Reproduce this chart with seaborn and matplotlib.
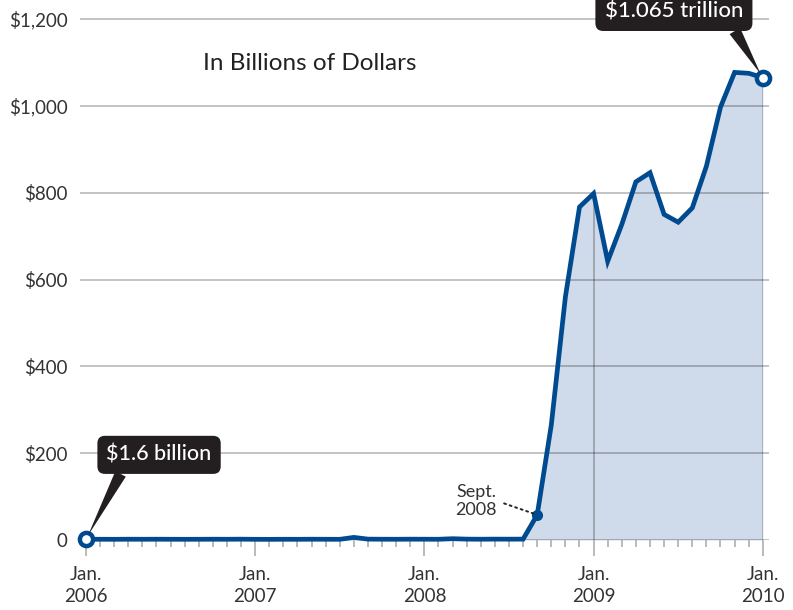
import numpy as np
import pandas as pd
import matplotlib
matplotlib.use("Agg")
import matplotlib.pyplot as plt
from matplotlib.ticker import FixedLocator, MultipleLocator
import seaborn as sns

# ---- data (billions of dollars, monthly Jan 2006 .. Jan 2010) ----
values_2006 = [1.6, 1.7, 1.6, 1.8, 1.7, 1.8, 1.7, 1.6, 1.7, 1.8, 1.7, 1.9]
values_2007 = [1.6, 1.5, 1.7, 1.6, 1.8, 1.7, 1.6, 6.0, 2.0, 1.8, 1.7, 1.9]
values_2008 = [1.8, 1.7, 3.0, 2.0, 1.8, 2.0, 1.9, 2.0, 58.0, 265.0, 560.0, 767.0]
values_2009 = [798.0, 642.0, 727.0, 825.0, 846.0, 750.0, 732.0, 765.0, 861.0, 997.0, 1077.0, 1075.0]
values_2010 = [1065.0]
values = values_2006 + values_2007 + values_2008 + values_2009 + values_2010
months = list(range(len(values)))

year_tick_months = [0, 12, 24, 36, 48]
year_tick_labels = ["Jan.\n2006", "Jan.\n2007", "Jan.\n2008", "Jan.\n2009", "Jan.\n2010"]
y_ticks = [0, 200, 400, 600, 800, 1000, 1200]
y_tick_labels = ["0", "$200", "$400", "$600", "$800", "$1,000", "$1,200"]

title_text = "In Billions of Dollars"
start_label = "$1.6 billion"
end_label = "$1.065 trillion"
sept_label = "Sept.\n2008"
sept_index = 32

df = pd.DataFrame({"month": months, "value": values})

# ---- style ----
sns.set_theme(style="white")
plt.rcParams["font.family"] = ["Lato", "DejaVu Sans"]

LINE = "#004a8f"
FILL = "#cfdbea"
TXT = "#333333"
BOX = "#231f20"

fig = plt.figure(figsize=(7.93, 6.10), dpi=100)
ax = fig.add_axes([80 / 793, 70 / 610, 689 / 793, 540 / 610])

fill = ax.fill_between(df["month"], 0, df["value"], color=FILL, lw=0, zorder=0.3)
sns.lineplot(data=df, x="month", y="value", ax=ax, color=LINE, lw=3.4,
             zorder=3, clip_on=False)
for l in ax.lines:
    l.set_clip_on(False)
    l.set_solid_joinstyle("miter")

ax.set_xlim(-0.4255, 48.44)
ax.set_ylim(0, 1243.8)

# vertical year lines visible only inside the shaded area
for m in year_tick_months:
    vl = ax.axvline(m, color="black", alpha=0.3, lw=1.1, zorder=0.6)
    vl.set_clip_path(fill.get_paths()[0], fill.get_transform())

ax.set_axisbelow(True)
ax.yaxis.set_major_locator(FixedLocator(y_ticks))
ax.set_yticklabels(y_tick_labels)
ax.grid(axis="y", color="black", alpha=0.3, lw=1.1)
ax.grid(axis="x", visible=False)

ax.xaxis.set_major_locator(FixedLocator(year_tick_months))
ax.xaxis.set_minor_locator(MultipleLocator(1))
ax.set_xticklabels(year_tick_labels, linespacing=1.4)

ax.tick_params(axis="y", length=0, pad=9, labelsize=13.5, labelcolor=TXT)
ax.tick_params(axis="x", which="major", length=11.5, width=1.3, color="#b4b4b4",
               pad=7, labelsize=13.5, labelcolor=TXT, direction="out", bottom=True)
ax.tick_params(axis="x", which="minor", length=5, width=1.3, color="#b4b4b4",
               direction="out", bottom=True)
for s in ax.spines.values():
    s.set_visible(False)
ax.set_xlabel("")
ax.set_ylabel("")

# title
ax.text(0.178, 0.883, title_text, transform=ax.transAxes, fontsize=17.5,
        color="#222222", ha="left", va="center")

# end markers
ax.plot([months[0], months[-1]], [values[0], values[-1]], "o", ms=9.5, mfc="white",
        mec=LINE, mew=3.2, zorder=5, clip_on=False)
ax.plot([months[sept_index]], [values[sept_index]], "o", ms=7, color=LINE, zorder=5,
        clip_on=False)

# callouts
box_style = "round,pad=0.42,rounding_size=0.35"
ax.annotate(start_label, xy=(months[0], values[0]), xytext=(52.6, 60.8),
            textcoords="offset points", ha="center", va="center",
            fontsize=15.5, color="white", fontweight="medium",
            bbox=dict(boxstyle=box_style, fc=BOX, ec="none"),
            arrowprops=dict(arrowstyle="wedge,tail_width=0.55,shrink_factor=0.5",
                            fc=BOX, ec="none", relpos=(0.18, 0.0),
                            shrinkA=0, shrinkB=3, connectionstyle="arc3,rad=0"),
            zorder=6, annotation_clip=False)
ax.annotate(end_label, xy=(months[-1], values[-1]), xytext=(-64, 47.5),
            textcoords="offset points", ha="center", va="center",
            fontsize=16, color="white", fontweight="medium",
            bbox=dict(boxstyle=box_style, fc=BOX, ec="none"),
            arrowprops=dict(arrowstyle="wedge,tail_width=0.55,shrink_factor=0.5",
                            fc=BOX, ec="none", relpos=(0.9, 0.0),
                            shrinkA=0, shrinkB=3, connectionstyle="arc3,rad=0"),
            zorder=6, annotation_clip=False)
ax.annotate(sept_label, xy=(months[sept_index], values[sept_index]), xytext=(-29, 10),
            textcoords="offset points", ha="right", va="center",
            fontsize=13, color=TXT, linespacing=1.2,
            arrowprops=dict(arrowstyle="-", color="#222222", lw=1.4,
                            linestyle=(0, (1, 2)), relpos=(1.0, 0.5),
                            shrinkA=3, shrinkB=3),
            zorder=6)

fig.savefig("out.png", dpi=100)
